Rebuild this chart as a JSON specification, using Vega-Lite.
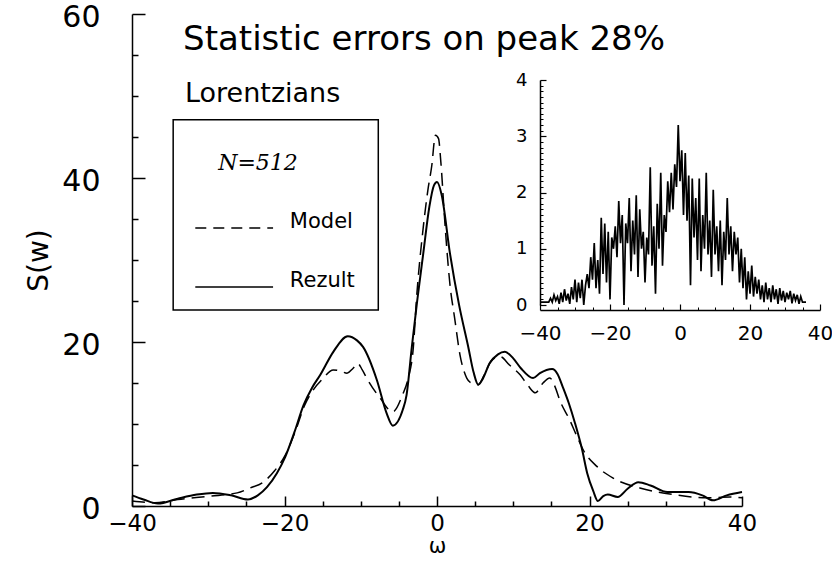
{
  "$schema": "https://vega.github.io/schema/vega-lite/v6.json",
  "width": 610,
  "height": 492,
  "autosize": {"type": "none"},
  "padding": {"left": 132, "top": 14, "right": 90, "bottom": 55},
  "background": "white",
  "config": {
    "view": {"stroke": null},
    "axis": {"grid": false, "domainColor": "black", "tickColor": "black", "labelColor": "black", "titleColor": "black", "labelFont": "DejaVu Sans", "titleFont": "DejaVu Sans", "titleFontWeight": "normal", "labelFlush": false, "labelOverlap": false}
  },
  "datasets": {
    "rezult": [
      {"x": -40, "y": 1.3}, {"x": -38.5, "y": 0.8}, {"x": -36.6, "y": 0.3}, {"x": -34, "y": 0.9}, {"x": -31.5, "y": 1.4},
      {"x": -29.4, "y": 1.6}, {"x": -27, "y": 1.3}, {"x": -24.8, "y": 0.8}, {"x": -23.5, "y": 1.3}, {"x": -22.3, "y": 2.3},
      {"x": -21, "y": 4}, {"x": -19.9, "y": 6.0}, {"x": -18.7, "y": 9}, {"x": -17.5, "y": 12.3}, {"x": -16.4, "y": 14.4},
      {"x": -15.3, "y": 16.0}, {"x": -13.6, "y": 18.8}, {"x": -11.7, "y": 20.7}, {"x": -10.5, "y": 20.2}, {"x": -9.7, "y": 19.4},
      {"x": -7.9, "y": 15.4}, {"x": -6.6, "y": 11.3}, {"x": -5.8, "y": 9.8}, {"x": -4.5, "y": 11.7}, {"x": -4.0, "y": 13.5},
      {"x": -3.3, "y": 19.4}, {"x": -2.6, "y": 25}, {"x": -1.8, "y": 30.8}, {"x": -1, "y": 36.5}, {"x": -0.4, "y": 39.1},
      {"x": 0, "y": 39.5}, {"x": 0.6, "y": 38}, {"x": 1.7, "y": 30.8}, {"x": 2.9, "y": 24.5}, {"x": 4.1, "y": 19.4},
      {"x": 4.8, "y": 16.3}, {"x": 5.4, "y": 14.8}, {"x": 6, "y": 15.5}, {"x": 6.9, "y": 17.4}, {"x": 8, "y": 18.5},
      {"x": 8.9, "y": 18.8}, {"x": 10, "y": 18}, {"x": 11, "y": 16.8}, {"x": 12.6, "y": 15.6}, {"x": 13.5, "y": 16.2},
      {"x": 15.1, "y": 16.7}, {"x": 15.8, "y": 16.1}, {"x": 16.5, "y": 14.5}, {"x": 17.3, "y": 12.5}, {"x": 18.1, "y": 10.1},
      {"x": 19, "y": 7}, {"x": 19.7, "y": 4.0}, {"x": 20.5, "y": 1.8}, {"x": 21.1, "y": 0.6}, {"x": 21.8, "y": 1.2},
      {"x": 22.4, "y": 1.4}, {"x": 23.7, "y": 1.1}, {"x": 25, "y": 2.1}, {"x": 26.4, "y": 2.9}, {"x": 28, "y": 2.5},
      {"x": 30.2, "y": 1.7}, {"x": 33, "y": 1.7}, {"x": 34.8, "y": 1.3}, {"x": 36.2, "y": 0.7}, {"x": 38, "y": 1.3},
      {"x": 40, "y": 1.7}
    ],
    "model": [
      {"x": -40, "y": 0.6}, {"x": -37, "y": 0.4}, {"x": -34, "y": 0.8}, {"x": -29.8, "y": 1.2}, {"x": -26.2, "y": 1.6},
      {"x": -24.5, "y": 2.2}, {"x": -22.8, "y": 2.9}, {"x": -21.3, "y": 4.3}, {"x": -19.9, "y": 6.2}, {"x": -18.5, "y": 9.3},
      {"x": -17.4, "y": 12.2}, {"x": -16.2, "y": 14.2}, {"x": -15.1, "y": 15.4}, {"x": -13.6, "y": 16.6}, {"x": -12.5, "y": 16.4},
      {"x": -11.8, "y": 16.2}, {"x": -11, "y": 16.8}, {"x": -10.4, "y": 17.4}, {"x": -9.8, "y": 16.6}, {"x": -9.1, "y": 15.4},
      {"x": -7.5, "y": 13.2}, {"x": -5.8, "y": 11.5}, {"x": -4.5, "y": 13.6}, {"x": -3.8, "y": 15.5}, {"x": -3.1, "y": 19.4},
      {"x": -2.7, "y": 25.1}, {"x": -1.8, "y": 34}, {"x": -1.2, "y": 38.5}, {"x": -0.7, "y": 41.4}, {"x": -0.2, "y": 45.2},
      {"x": 0.2, "y": 44.8}, {"x": 0.5, "y": 42}, {"x": 1.0, "y": 35}, {"x": 1.3, "y": 31.2}, {"x": 1.7, "y": 27},
      {"x": 2.3, "y": 23}, {"x": 3.0, "y": 18.5}, {"x": 3.9, "y": 15.6}, {"x": 4.5, "y": 15.0}, {"x": 5.4, "y": 14.8},
      {"x": 6.2, "y": 16}, {"x": 7.2, "y": 17.8}, {"x": 8.3, "y": 18.2}, {"x": 9.5, "y": 17.2}, {"x": 10.9, "y": 16},
      {"x": 12, "y": 14.6}, {"x": 12.9, "y": 13.8}, {"x": 13.9, "y": 15}, {"x": 14.8, "y": 15.6}, {"x": 15.5, "y": 14.5},
      {"x": 16.1, "y": 12.9}, {"x": 17.4, "y": 10.5}, {"x": 18.3, "y": 8.6}, {"x": 19.2, "y": 6.8}, {"x": 21, "y": 4.8},
      {"x": 23.1, "y": 3.4}, {"x": 26.6, "y": 2.2}, {"x": 31, "y": 1.4}, {"x": 35.4, "y": 1.0}, {"x": 38.4, "y": 1.1},
      {"x": 40, "y": 1.0}
    ],
    "inset": [
      {"x": -40, "y": 0.05}, {"x": -39.5, "y": 0.05}, {"x": -39, "y": 0.05}, {"x": -38.5, "y": 0.05}, {"x": -38, "y": 0.05},
      {"x": -37.5, "y": 0.05}, {"x": -37, "y": 0.12}, {"x": -36.5, "y": 0.05}, {"x": -36, "y": 0.18}, {"x": -35.5, "y": 0.08},
      {"x": -35, "y": 0.15}, {"x": -34.5, "y": 0.02}, {"x": -34, "y": 0.22}, {"x": -33.5, "y": 0.05}, {"x": -33, "y": 0.28},
      {"x": -32.5, "y": 0.08}, {"x": -32, "y": 0.2}, {"x": -31.5, "y": 0.02}, {"x": -31, "y": 0.32}, {"x": -30.5, "y": 0.1},
      {"x": -30, "y": 0.45}, {"x": -29.5, "y": 0.05}, {"x": -29, "y": 0.4}, {"x": -28.5, "y": 0.12}, {"x": -28, "y": 0.45},
      {"x": -27.5, "y": 0.0}, {"x": -27, "y": 0.35}, {"x": -26.5, "y": 0.55}, {"x": -26, "y": 0.3}, {"x": -25.5, "y": 0.85},
      {"x": -25, "y": 0.45}, {"x": -24.5, "y": 1.1}, {"x": -24, "y": 0.3}, {"x": -23.5, "y": 0.8}, {"x": -23, "y": 0.2},
      {"x": -22.5, "y": 1.55}, {"x": -22, "y": 0.55}, {"x": -21.5, "y": 1.45}, {"x": -21, "y": 0.4}, {"x": -20.5, "y": 1.3},
      {"x": -20, "y": 0.1}, {"x": -19.5, "y": 1.2}, {"x": -19, "y": 1.0}, {"x": -18.5, "y": 1.4}, {"x": -18, "y": 0.85},
      {"x": -17.5, "y": 1.85}, {"x": -17, "y": 1.1}, {"x": -16.5, "y": 1.6}, {"x": -16, "y": 0.0}, {"x": -15.5, "y": 1.45},
      {"x": -15, "y": 1.1}, {"x": -14.5, "y": 1.9}, {"x": -14, "y": 0.6}, {"x": -13.5, "y": 1.5}, {"x": -13, "y": 0.9},
      {"x": -12.5, "y": 1.95}, {"x": -12, "y": 0.5}, {"x": -11.5, "y": 1.7}, {"x": -11, "y": 1.0}, {"x": -10.5, "y": 1.3},
      {"x": -10, "y": 0.4}, {"x": -9.5, "y": 1.2}, {"x": -9, "y": 0.9}, {"x": -8.5, "y": 2.45}, {"x": -8, "y": 0.7},
      {"x": -7.5, "y": 1.4}, {"x": -7, "y": 0.2}, {"x": -6.5, "y": 1.8}, {"x": -6, "y": 1.0}, {"x": -5.5, "y": 2.35},
      {"x": -5, "y": 0.7}, {"x": -4.5, "y": 1.6}, {"x": -4, "y": 1.3}, {"x": -3.5, "y": 2.2}, {"x": -3, "y": 1.65},
      {"x": -2.5, "y": 2.35}, {"x": -2, "y": 1.7}, {"x": -1.5, "y": 2.5}, {"x": -1, "y": 2.1}, {"x": -0.5, "y": 3.2},
      {"x": 0, "y": 2.2}, {"x": 0.5, "y": 2.75}, {"x": 1, "y": 1.6}, {"x": 1.5, "y": 2.7}, {"x": 2, "y": 1.5},
      {"x": 2.5, "y": 2.3}, {"x": 3, "y": 0.35}, {"x": 3.5, "y": 2.25}, {"x": 4, "y": 1.2}, {"x": 4.5, "y": 1.9},
      {"x": 5, "y": 0.8}, {"x": 5.5, "y": 2.25}, {"x": 6, "y": 0.6}, {"x": 6.5, "y": 1.6}, {"x": 7, "y": 1.0},
      {"x": 7.5, "y": 2.35}, {"x": 8, "y": 0.9}, {"x": 8.5, "y": 1.5}, {"x": 9, "y": 0.5}, {"x": 9.5, "y": 2.05},
      {"x": 10, "y": 0.9}, {"x": 10.5, "y": 1.4}, {"x": 11, "y": 0.6}, {"x": 11.5, "y": 1.5}, {"x": 12, "y": 0.35},
      {"x": 12.5, "y": 1.3}, {"x": 13, "y": 0.8}, {"x": 13.5, "y": 1.9}, {"x": 14, "y": 0.9}, {"x": 14.5, "y": 1.4},
      {"x": 15, "y": 0.6}, {"x": 15.5, "y": 1.3}, {"x": 16, "y": 0.9}, {"x": 16.5, "y": 1.2}, {"x": 17, "y": 0.4},
      {"x": 17.5, "y": 1.0}, {"x": 18, "y": 0.3}, {"x": 18.5, "y": 0.85}, {"x": 19, "y": 0.1}, {"x": 19.5, "y": 0.6},
      {"x": 20, "y": 0.2}, {"x": 20.5, "y": 0.7}, {"x": 21, "y": 0.15}, {"x": 21.5, "y": 0.5}, {"x": 22, "y": 0.2},
      {"x": 22.5, "y": 0.45}, {"x": 23, "y": 0.1}, {"x": 23.5, "y": 0.35}, {"x": 24, "y": 0.05}, {"x": 24.5, "y": 0.4},
      {"x": 25, "y": 0.1}, {"x": 25.5, "y": 0.3}, {"x": 26, "y": 0.05}, {"x": 26.5, "y": 0.35}, {"x": 27, "y": 0.1},
      {"x": 27.5, "y": 0.28}, {"x": 28, "y": 0.02}, {"x": 28.5, "y": 0.3}, {"x": 29, "y": 0.08}, {"x": 29.5, "y": 0.25},
      {"x": 30, "y": 0.05}, {"x": 30.5, "y": 0.22}, {"x": 31, "y": 0.1}, {"x": 31.5, "y": 0.25}, {"x": 32, "y": 0.03},
      {"x": 32.5, "y": 0.2}, {"x": 33, "y": 0.08}, {"x": 33.5, "y": 0.18}, {"x": 34, "y": 0.02}, {"x": 34.5, "y": 0.15},
      {"x": 35, "y": 0.05}, {"x": 35.5, "y": 0.05}, {"x": 36, "y": 0.05}
    ]
  },
  "layer": [
    {
      "layer": [
        {
          "data": {"name": "rezult"},
          "mark": {"type": "line", "color": "black", "strokeWidth": 2, "interpolate": "monotone"},
          "encoding": {
            "x": {
              "field": "x", "type": "quantitative",
              "scale": {"domain": [-40, 40], "nice": false, "zero": false},
              "axis": {
                "orient": "bottom",
                "values": [-40, -20, 0, 20, 40],
                "tickSize": -10, "tickWidth": 1.5, "domainWidth": 1.5,
                "labelFontSize": 23, "labelPadding": 16,
                "title": "ω", "titleFontSize": 21, "titlePadding": 0
              }
            },
            "y": {
              "field": "y", "type": "quantitative",
              "scale": {"domain": [0, 60], "nice": false, "zero": false},
              "axis": {
                "orient": "left",
                "values": [0, 20, 40, 60],
                "tickSize": -13, "tickWidth": 1.5, "domainWidth": 1.5,
                "labelFontSize": 30, "labelPadding": 45, "labelOffset": 3,
                "title": "S(w)", "titleFontSize": 28, "titlePadding": 8
              }
            }
          }
        },
        {
          "data": {"name": "model"},
          "mark": {"type": "line", "color": "black", "strokeWidth": 1.5, "strokeDash": [13, 7], "interpolate": "monotone"},
          "encoding": {
            "x": {
              "field": "x", "type": "quantitative",
              "axis": {
                "orient": "bottom",
                "values": [-35, -30, -25, -15, -10, -5, 5, 10, 15, 25, 30, 35],
                "tickSize": -5, "tickWidth": 1.5, "domain": false, "labels": false, "title": null
              }
            },
            "y": {
              "field": "y", "type": "quantitative",
              "axis": {
                "orient": "left",
                "values": [5, 10, 15, 25, 30, 35, 45, 50, 55],
                "tickSize": -6, "tickWidth": 1.5, "domain": false, "labels": false, "title": null
              }
            }
          }
        },
        {
          "data": {"values": [{"x": -34.6, "x2": -7.7, "y": 47.1, "y2": 23.9}]},
          "mark": {"type": "rect", "fill": null, "fillOpacity": 0, "stroke": "black", "strokeWidth": 1.5},
          "encoding": {
            "x": {"field": "x", "type": "quantitative", "axis": null},
            "x2": {"field": "x2"},
            "y": {"field": "y", "type": "quantitative", "axis": null},
            "y2": {"field": "y2"}
          }
        },
        {
          "data": {"values": [{"x": -31.7, "y": 33.9}, {"x": -21.5, "y": 33.9}]},
          "mark": {"type": "line", "color": "black", "strokeWidth": 1.5, "strokeDash": [11, 7]},
          "encoding": {
            "x": {"field": "x", "type": "quantitative", "axis": null},
            "y": {"field": "y", "type": "quantitative", "axis": null}
          }
        },
        {
          "data": {"values": [{"x": -31.7, "y": 26.7}, {"x": -21.5, "y": 26.7}]},
          "mark": {"type": "line", "color": "black", "strokeWidth": 1.5},
          "encoding": {
            "x": {"field": "x", "type": "quantitative", "axis": null},
            "y": {"field": "y", "type": "quantitative", "axis": null}
          }
        },
        {
          "data": {"values": [{"label": "Statistic errors on peak 28%", "x": -33.3, "y": 55.6}]},
          "mark": {"type": "text", "align": "left", "baseline": "alphabetic", "font": "DejaVu Sans", "fontSize": 34, "color": "black"},
          "encoding": {
            "x": {"field": "x", "type": "quantitative", "axis": null},
            "y": {"field": "y", "type": "quantitative", "axis": null},
            "text": {"field": "label"}
          }
        },
        {
          "data": {"values": [{"label": "Lorentzians", "x": -33.05, "y": 49.3}]},
          "mark": {"type": "text", "align": "left", "baseline": "alphabetic", "font": "DejaVu Sans", "fontSize": 27, "color": "black"},
          "encoding": {
            "x": {"field": "x", "type": "quantitative", "axis": null},
            "y": {"field": "y", "type": "quantitative", "axis": null},
            "text": {"field": "label"}
          }
        },
        {
          "data": {"values": [{"label": "N=512", "x": -28.7, "y": 41}]},
          "mark": {"type": "text", "align": "left", "baseline": "alphabetic", "font": "DejaVu Serif", "fontStyle": "italic", "fontSize": 22, "color": "black"},
          "encoding": {
            "x": {"field": "x", "type": "quantitative", "axis": null},
            "y": {"field": "y", "type": "quantitative", "axis": null},
            "text": {"field": "label"}
          }
        },
        {
          "data": {"values": [{"label": "Model", "x": -19.3, "y": 33.9}, {"label": "Rezult", "x": -19.3, "y": 26.7}]},
          "mark": {"type": "text", "align": "left", "baseline": "alphabetic", "font": "DejaVu Sans", "fontSize": 21, "color": "black"},
          "encoding": {
            "x": {"field": "x", "type": "quantitative", "axis": null},
            "y": {"field": "y", "type": "quantitative", "axis": null},
            "text": {"field": "label"}
          }
        }
      ],
      "resolve": {"axis": {"x": "independent", "y": "independent"}}
    },
    {
      "layer": [
        {
          "data": {"name": "inset"},
          "mark": {"type": "line", "color": "black", "strokeWidth": 1.7},
          "encoding": {
            "x": {
              "field": "x", "type": "quantitative",
              "scale": {"domain": [-40, 40], "range": [408, 688], "nice": false, "zero": false},
              "axis": {
                "orient": "bottom",
                "values": [-40, -20, 0, 20, 40],
                "tickSize": -6, "tickWidth": 1.2, "domainWidth": 1.5,
                "labelFontSize": 20, "labelPadding": 19,
                "offset": -196, "title": null
              }
            },
            "y": {
              "field": "y", "type": "quantitative",
              "scale": {"domain": [0, 4], "range": [291, 66], "nice": false, "zero": false},
              "axis": {
                "orient": "left",
                "values": [0, 1, 2, 3, 4],
                "tickSize": -6, "tickWidth": 1.2, "domainWidth": 1.5,
                "labelFontSize": 18, "labelPadding": 19,
                "offset": -408, "title": null
              }
            }
          }
        },
        {
          "data": {"values": [{"label": "J(ω)", "x": -30.9, "y": 2.6}]},
          "mark": {"type": "text", "align": "left", "baseline": "alphabetic", "font": "DejaVu Sans", "fontSize": 15, "color": "black"},
          "encoding": {
            "x": {
              "field": "x", "type": "quantitative",
              "axis": {
                "orient": "bottom",
                "values": [-35, -30, -25, -15, -10, -5, 5, 10, 15, 25, 30, 35],
                "tickSize": -3, "tickWidth": 1, "domain": false, "labels": false,
                "offset": -196, "title": null
              }
            },
            "y": {
              "field": "y", "type": "quantitative",
              "axis": {
                "orient": "left",
                "values": [0.1, 0.2, 0.3, 0.4, 0.5, 0.6, 0.7, 0.8, 0.9, 1.1, 1.2, 1.3, 1.4, 1.5, 1.6, 1.7, 1.8, 1.9, 2.1, 2.2, 2.3, 2.4, 2.5, 2.6, 2.7, 2.8, 2.9, 3.1, 3.2, 3.3, 3.4, 3.5, 3.6, 3.7, 3.8, 3.9],
                "tickSize": -3, "tickWidth": 1, "domain": false, "labels": false,
                "offset": -408, "title": null
              }
            }
          }
        }
      ],
      "resolve": {"axis": {"x": "independent", "y": "independent"}}
    }
  ],
  "resolve": {"scale": {"x": "independent", "y": "independent"}, "axis": {"x": "independent", "y": "independent"}}
}
